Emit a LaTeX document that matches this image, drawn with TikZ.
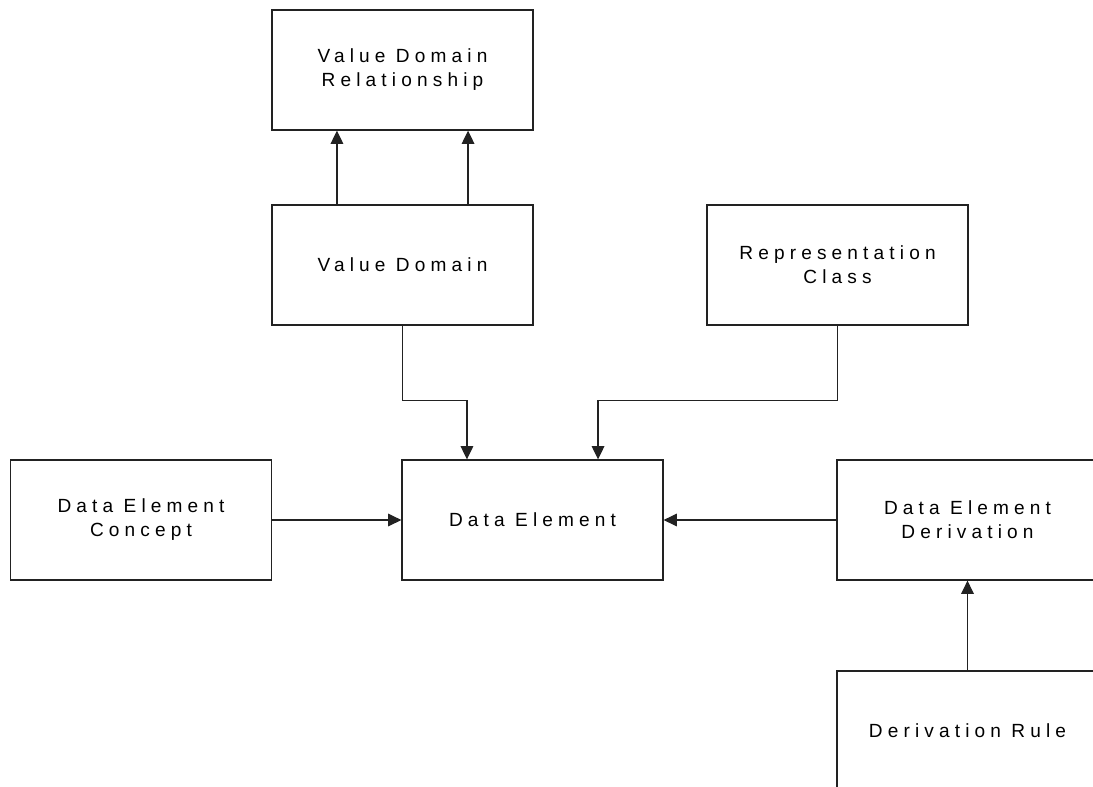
\documentclass[tikz,border=0pt]{standalone}
\usepackage{fontspec}
\setmainfont{Liberation Sans}[LetterSpace=27]
\usetikzlibrary{arrows.meta,calc}
\definecolor{ln}{HTML}{222222}
\begin{document}
\begin{tikzpicture}[x=0.75pt,y=-0.75pt,
  box/.style={draw=ln,line width=0.9pt,minimum width=261*0.75pt,minimum height=120*0.75pt,
    inner sep=0pt,align=center,font=\fontsize{14.3pt}{18pt}\selectfont,text=black},
  arr/.style={draw=ln,line width=0.9pt,-{Triangle[length=10pt,width=9.5pt]}}]
\useasboundingbox (0,0) rectangle (1093,786);
\clip (0,0) rectangle (1093,786);
\node[box] (VDR) at (402.5,70) {Value Domain\\Relationship};
\node[box] (VD)  at (402.5,265) {Value Domain};
\node[box] (RC)  at (837.5,265) {Representation\\Class};
\node[box] (DEC) at (141,520) {Data Element\\Concept};
\node[box] (DE)  at (532.5,520) {Data Element};
\node[box] (DED) at (967.5,520) {Data Element\\Derivation};
\node[box] (DR)  at (967.5,731) {Derivation Rule};
\draw[arr] ($(VD.north west)!0.25!(VD.north east)$) -- ($(VDR.south west)!0.25!(VDR.south east)$);
\draw[arr] ($(VD.north west)!0.75!(VD.north east)$) -- ($(VDR.south west)!0.75!(VDR.south east)$);
\draw[arr] (VD.south) -- ++(0,75) -| ($(DE.north west)!0.25!(DE.north east)$);
\draw[arr] (RC.south) -- ++(0,75) -| ($(DE.north west)!0.75!(DE.north east)$);
\draw[arr] (DEC.east) -- (DE.west);
\draw[arr] (DED.west) -- (DE.east);
\draw[arr] (DR.north) -- (DED.south);
\end{tikzpicture}
\end{document}
